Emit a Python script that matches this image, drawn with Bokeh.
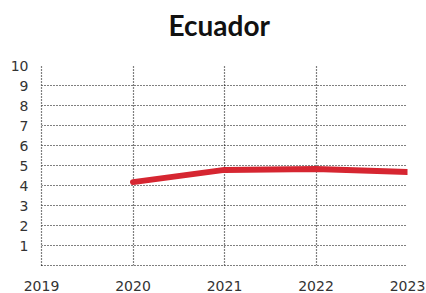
from bokeh.plotting import figure
from bokeh.models import Range1d, FixedTicker, Title
from bokeh.embed import file_html
from bokeh.resources import INLINE

title_text = "Ecuador"
years = [2020, 2021, 2022, 2023]
values = [4.17, 4.78, 4.82, 4.68]
x_ticks = [2019, 2020, 2021, 2022, 2023]
y_ticks = [1, 2, 3, 4, 5, 6, 7, 8, 9, 10]

p = figure(width=426, height=293, output_backend="svg", toolbar_location=None,
           x_range=Range1d(2019, 2023), y_range=Range1d(0, 10),
           min_border_left=41, min_border_right=19, min_border_top=65, min_border_bottom=26)

# spacer title (nearest the frame) pushes the real title upward
spacer = Title(text=" ", text_font_size="1px", standoff=16)
p.add_layout(spacer, "above")
main_title = Title(text=title_text, align="left", offset=127, standoff=10,
                   text_font="Lato", text_font_size="28px", text_font_style="bold",
                   text_color="#111111")
p.add_layout(main_title, "above")

p.outline_line_color = None
p.background_fill_color = "white"
p.border_fill_color = "white"

p.line(years, values, line_color="#d62631", line_width=6, line_cap="round")

for ax in (p.xaxis[0], p.yaxis[0]):
    ax.axis_line_color = "black"
    ax.axis_line_dash = "1 2"
    ax.axis_line_width = 1.2
    ax.major_tick_line_color = None
    ax.minor_tick_line_color = None
    ax.major_tick_out = 0
    ax.major_tick_in = 0
    ax.major_label_text_font = "DejaVu Sans"
    ax.major_label_text_font_size = "14px"
    ax.major_label_text_color = "#333333"

p.xaxis[0].ticker = FixedTicker(ticks=x_ticks)
p.yaxis[0].ticker = FixedTicker(ticks=y_ticks)
p.xaxis[0].major_label_standoff = 15
p.yaxis[0].major_label_standoff = 13

for g in (p.xgrid[0], p.ygrid[0]):
    g.grid_line_color = "black"
    g.grid_line_dash = "1 2"
    g.grid_line_width = 1.2
p.xgrid[0].ticker = FixedTicker(ticks=x_ticks)
p.ygrid[0].ticker = FixedTicker(ticks=y_ticks)

open("out.html", "w").write(file_html(p, INLINE))
